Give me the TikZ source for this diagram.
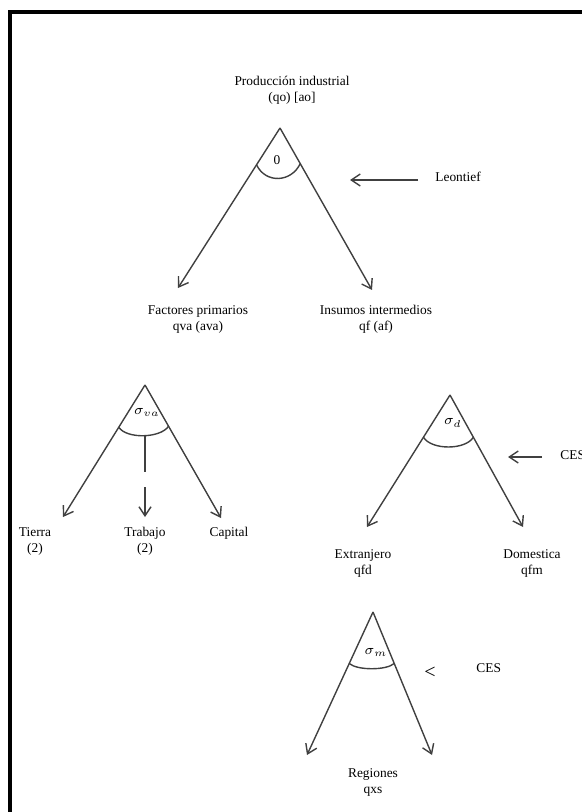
\documentclass[tikz,border=0pt]{standalone}
\usepackage{fontspec}
\setmainfont{Liberation Serif}
\usetikzlibrary{arrows.meta,calc}
\tikzset{
	rama/.style={draw=black!75, line width=0.7pt, -{Straight Barb[length=4.5pt,width=6pt]}},	% branch arrows
	arco/.style={draw=black!75, line width=0.7pt},
	etiqueta/.style={font=\fontsize{6.7}{8}\selectfont, align=center, inner sep=0pt}
}

\begin{document}
\begin{tikzpicture}[x=0.5pt,y=-0.5pt]
	\useasboundingbox (0,0) rectangle (582,812);
	\draw[line width=2pt] (10,812) -- (10,12) -- (582,12);
	% top nest: Leontief
	\node[etiqueta] (prod) at (292,90) {Producción industrial\\(qo) [ao]};
	\coordinate (ap1) at (280,128);
	\draw[rama] (ap1) -- (178,288) coordinate (fl1);
	\draw[rama] (ap1) -- (372,290) coordinate (fr1);
	\draw[arco] ($(ap1)!0.23!(fl1)$) .. controls +(9,19) and +(-9,19) .. ($(ap1)!0.22!(fr1)$);
	\node[etiqueta] (s0) at (277,160) {0};
	\node[etiqueta,anchor=west] (leontief) at (435,177) {Leontief};
	\draw[rama] (418,180) coordinate (lc) -- (350,180);
	\node[etiqueta] (factores) at (198,319) {Factores primarios\\qva (ava)};
	\node[etiqueta] (insumos) at (376,319) {Insumos intermedios\\qf (af)};
	% value added nest
	\coordinate (ap2) at (145,385);
	\draw[rama] (ap2) -- (63,517) coordinate (fl2);
	\draw[rama] (ap2) -- (221,518) coordinate (fr2);
	\draw[arco] ($(ap2)!0.32!(fl2)$) .. controls +(8,12) and +(-8,12) .. ($(ap2)!0.31!(fr2)$);
	\draw[arco] (145,436) coordinate (mb2) -- (145,472);
	\draw[rama] (145,487) -- (145,517);
	\node[etiqueta] (sva) at (147,412) {$\sigma_{va}$};
	\node[etiqueta] (tierra) at (35,541) {Tierra\\(2)};
	\node[etiqueta] (trabajo) at (145,541) {Trabajo\\(2)};
	\node[etiqueta] (capital) at (229,533) {Capital};
	% intermediate inputs nest
	\coordinate (ap3) at (450,395);
	\draw[rama] (ap3) -- (367,527) coordinate (fl3);
	\draw[rama] (ap3) -- (523,527) coordinate (fr3);
	\draw[arco] ($(ap3)!0.32!(fl3)$) .. controls +(8,13) and +(-8,13) .. ($(ap3)!0.32!(fr3)$);
	\node[etiqueta] (sd) at (453,423) {$\sigma_d$};
	\node[etiqueta,anchor=west] (cesd) at (560,455) {CES};
	\draw[rama] (542,457) -- (508,457);
	\node[etiqueta] (extranjero) at (363,563) {Extranjero\\qfd};
	\node[etiqueta] (domestica) at (532,563) {Domestica\\qfm};
	% import nest
	\coordinate (ap4) at (373,612);
	\draw[rama] (ap4) -- (307,755) coordinate (fl4);
	\draw[rama] (ap4) -- (432,755) coordinate (fr4);
	\draw[arco] ($(ap4)!0.36!(fl4)$) .. controls +(8,7) and +(-8,7) .. ($(ap4)!0.36!(fr4)$);
	\node[etiqueta] (sm) at (376,652) {$\sigma_m$};
	\node[etiqueta,font=\fontsize{10}{10}\selectfont] (menor) at (430,673) {<};
	\node[etiqueta,anchor=west] (cesm) at (476,668) {CES};
	\node[etiqueta] (regiones) at (373,782) {Regiones\\qxs};
\end{tikzpicture}
\end{document}
